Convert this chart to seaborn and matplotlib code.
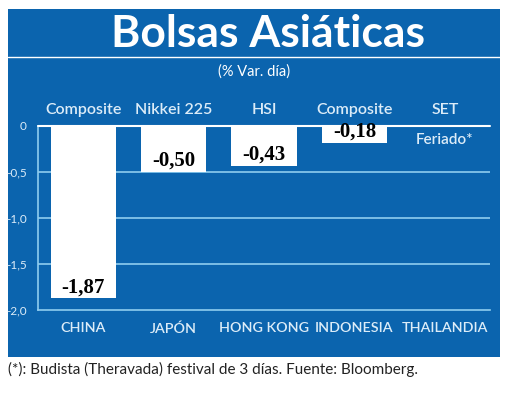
import matplotlib
matplotlib.use("Agg")
import matplotlib.pyplot as plt
import seaborn as sns
import numpy as np
import pandas as pd
from matplotlib.patches import Rectangle
from matplotlib.lines import Line2D

countries = ["CHINA", "JAPÓN", "HONG KONG", "INDONESIA", "THAILANDIA"]
indices = ["Composite", "Nikkei 225", "HSI", "Composite", "SET"]
values = [-1.87, -0.50, -0.43, -0.18, np.nan]
value_labels = ["-1,87", "-0,50", "-0,43", "-0,18", "Feriado*"]
yticks = [0, -0.5, -1.0, -1.5, -2.0]
ytick_labels = ["0", "-0,5", "-1,0", "-1,5", "-2,0"]

BLUE = "#0b64ae"
LIGHT = "#dcecf8"
GRID = "#8fcdf0"
NARROW = ["Lato", "DejaVu Sans"]

sns.set_theme(style="white")
plt.rcParams['font.family'] = ['Lato', 'DejaVu Sans']

W, H = 520, 393
fig = plt.figure(figsize=(5.2, 3.93), dpi=100)
fig.patch.set_facecolor("white")

def fx(x): return x / W
def fy(y): return 1 - y / H

# blue panel
fig.patches.append(Rectangle((fx(8), fy(357)), fx(500) - fx(8), fy(9) - fy(357),
                             transform=fig.transFigure, facecolor=BLUE, edgecolor="none", zorder=-5))
# white rule under title
fig.lines.append(Line2D([fx(8), fx(500)], [fy(57), fy(57)], transform=fig.transFigure,
                        color="white", lw=1.0, zorder=-4))

fig.text(fx(268), fy(34), "Bolsas Asiáticas", ha="center", va="center", color="white",
         fontsize=32, fontweight="bold", family=["Lato", "DejaVu Sans"])
fig.text(fx(254), fy(72), "(% Var. día)", ha="center", va="center", color="white",
         fontsize=10.5)

ax = fig.add_axes([fx(38), fy(310), fx(490) - fx(38), fy(126) - fy(310)])
ax.set_facecolor("none")
ax.set_zorder(2)

df = pd.DataFrame({"country": countries, "value": values})
sns.barplot(data=df, x="country", y="value", color="white", width=0.72, ax=ax,
            saturation=1, edgecolor="none", zorder=3)

ax.set_ylim(-2.0, 0)
ax.set_xlim(-0.5, 4.5)
for v in yticks[1:-1]:
    ax.axhline(v, color=GRID, lw=1.2, zorder=1)
ax.axhline(0, color="white", lw=1.5, zorder=4, clip_on=False)
for s in ["top", "right"]:
    ax.spines[s].set_visible(False)
ax.spines["left"].set_color(GRID)
ax.spines["bottom"].set_color(GRID)
ax.spines["left"].set_linewidth(1.2)
ax.spines["bottom"].set_linewidth(1.2)

ax.set_yticks(yticks)
ax.set_yticklabels(ytick_labels, color=LIGHT, fontsize=8.5)
ax.tick_params(axis="y", length=0, pad=8)
ax.set_xticks(range(len(countries)))
ax.set_xticklabels(countries, color=LIGHT, fontsize=10.3, family=NARROW, fontweight="semibold")
ax.tick_params(axis="x", length=0, pad=9)
ax.set_xlabel("")
ax.set_ylabel("")

for i, name in enumerate(indices):
    ax.text(i, 0.1, name, ha="center", va="bottom", color=LIGHT, fontsize=11.5,
            family=NARROW, fontweight="semibold", clip_on=False)

for i, (v, lab) in enumerate(zip(values, value_labels)):
    if np.isnan(v):
        ax.text(i, -0.15, lab, ha="center", va="center", color=LIGHT, fontsize=11,
                family=NARROW, fontweight="semibold")
    else:
        ax.text(i, v + 0.01, lab, ha="center", va="bottom", color="black", fontsize=15,
                fontweight="bold", family=["Liberation Serif", "DejaVu Serif"], zorder=5)

fig.text(fx(8), fy(369), "(*): Budista (Theravada) festival de 3 días. Fuente: Bloomberg.",
         ha="left", va="center", color="#222222", fontsize=11)

fig.savefig("out.png", dpi=100)
